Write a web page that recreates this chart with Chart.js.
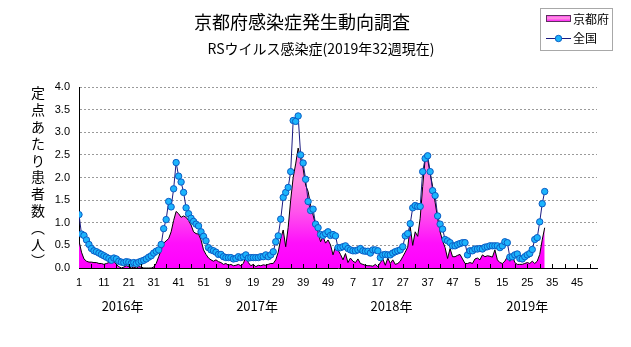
<!DOCTYPE html>
<html lang="ja">
<head>
<meta charset="utf-8">
<title>京都府感染症発生動向調査</title>
<script src="https://cdn.jsdelivr.net/npm/chart.js@4.4.0/dist/chart.umd.min.js"></script>
<style>
  html, body { margin: 0; padding: 0; background: #fff; }
  #rs-chart { display: block; }
</style>
</head>
<body>
<canvas id="rs-chart" width="631" height="347"></canvas>
<script>
/* -------- DATA START -------- */
const chartTitle = "京都府感染症発生動向調査";
const chartSubtitle = "RSウイルス感染症(2019年32週現在)";
const yAxisTitle = ["定", "点", "あ", "た", "り", "患", "者", "数", "︵", "人", "︶"];
const seriesNames = ["京都府", "全国"];
const yearLabels = ["2016年", "2017年", "2018年", "2019年"];
const weekTickLabels = ["1", "11", "21", "31", "41", "51", "9", "19", "29", "39", "49",
    "7", "17", "27", "37", "47", "5", "15", "25", "35", "45"];
const weeksShown = 208; // 4 years x 52 weeks

// 京都府 (2016 week 1 .. 2019 week 32)
const kyotoValues = [
    0.60, 0.35, 0.20, 0.15, 0.13, 0.13, 0.12, 0.12, 0.10, 0.10,
    0.08, 0.10, 0.12, 0.12, 0.15, 0.08, 0.03, 0.00, 0.02, 0.05,
    0.03, 0.00, 0.02, 0.00, 0.03, 0.02, 0.00, 0.00, 0.00, 0.00,
    0.02, 0.10, 0.25, 0.40, 0.55, 0.60, 0.65, 0.80, 1.05, 1.25,
    1.20, 1.12, 1.15, 1.12, 1.05, 0.95, 0.80, 0.76, 0.75, 0.62,
    0.40, 0.30, 0.22, 0.18, 0.15, 0.18, 0.14, 0.12, 0.08, 0.10,
    0.06, 0.08, 0.05, 0.06, 0.08, 0.05, 0.10, 0.25, 0.12, 0.05,
    0.08, 0.03, 0.06, 0.05, 0.07, 0.06, 0.08, 0.10, 0.10, 0.18,
    0.35, 0.65, 0.84, 0.47, 0.90, 1.50, 2.00, 2.30, 2.65, 2.42,
    2.20, 1.83, 1.69, 1.39, 1.17, 0.95, 0.80, 0.58, 0.69, 0.55,
    0.62, 0.51, 0.29, 0.47, 0.40, 0.30, 0.18, 0.32, 0.12, 0.22,
    0.15, 0.12, 0.20, 0.10, 0.08, 0.06, 0.05, 0.05, 0.04, 0.08,
    0.03, 0.12, 0.20, 0.06, 0.22, 0.10, 0.18, 0.08, 0.10, 0.15,
    0.25, 0.35, 0.46, 0.91, 0.50, 0.80, 0.70, 1.10, 1.80, 2.42,
    2.40, 2.10, 1.80, 1.45, 1.10, 0.80, 0.60, 0.45, 0.21, 0.43,
    0.25, 0.25, 0.28, 0.30, 0.20, 0.10, 0.10, 0.12, 0.10, 0.20,
    0.22, 0.18, 0.29, 0.25, 0.27, 0.26, 0.24, 0.40, 0.18, 0.12,
    0.10, 0.15, 0.25, 0.15, 0.28, 0.12, 0.08, 0.08, 0.08, 0.10,
    0.12, 0.10, 0.15, 0.10, 0.15, 0.30, 0.62, 0.89
];

// 全国 (2016 week 1 .. 2019 week 32)
const nationalValues = [
    1.18, 0.75, 0.72, 0.62, 0.52, 0.43, 0.38, 0.36, 0.33, 0.30,
    0.27, 0.24, 0.21, 0.17, 0.22, 0.20, 0.15, 0.13, 0.12, 0.14,
    0.13, 0.10, 0.12, 0.10, 0.13, 0.15, 0.17, 0.20, 0.24, 0.27,
    0.33, 0.37, 0.40, 0.52, 0.87, 1.07, 1.47, 1.35, 1.75, 2.33,
    2.03, 1.90, 1.67, 1.33, 1.20, 1.10, 1.03, 0.97, 0.93, 0.80,
    0.70, 0.60, 0.45, 0.40, 0.38, 0.35, 0.30, 0.30, 0.25, 0.23,
    0.23, 0.23, 0.20, 0.21, 0.25, 0.23, 0.25, 0.29, 0.22, 0.23,
    0.23, 0.23, 0.23, 0.25, 0.25, 0.29, 0.25, 0.29, 0.36, 0.58,
    0.71, 1.08, 1.56, 1.67, 1.78, 2.13, 3.26, 3.24, 3.36, 2.50,
    2.32, 1.96, 1.47, 1.27, 1.30, 0.97, 0.89, 0.74, 0.72, 0.76,
    0.80, 0.72, 0.74, 0.71, 0.45, 0.45, 0.47, 0.49, 0.43, 0.40,
    0.38, 0.38, 0.40, 0.43, 0.38, 0.37, 0.37, 0.33, 0.40, 0.40,
    0.38, 0.23, 0.29, 0.30, 0.29, 0.29, 0.33, 0.36, 0.38, 0.40,
    0.47, 0.71, 0.76, 0.98, 1.33, 1.38, 1.36, 1.36, 2.13, 2.42,
    2.48, 2.13, 1.71, 1.60, 1.15, 0.97, 0.86, 0.63, 0.60, 0.56,
    0.49, 0.49, 0.52, 0.54, 0.56, 0.56, 0.29, 0.38, 0.38, 0.42,
    0.42, 0.43, 0.42, 0.46, 0.47, 0.49, 0.49, 0.49, 0.49, 0.45,
    0.49, 0.58, 0.56, 0.24, 0.25, 0.29, 0.31, 0.21, 0.20, 0.25,
    0.29, 0.32, 0.41, 0.63, 0.67, 1.02, 1.42, 1.69
];
/* -------- DATA END -------- */

/* -------- STYLE START -------- */
const FONT_JP = "'Noto Sans CJK JP', 'Noto Sans', sans-serif";
const FONT_NUM = "'Liberation Sans', Arial, sans-serif";
const LINE_COLOR = "#1a1a80";
const POINT_FILL = "#1cb4fc";
const POINT_EDGE = "#0b5cc4";
/* -------- STYLE END -------- */

/* -------- FUNCTIONS START -------- */
function toPoints(values) {
    return values.map((v, i) => ({ x: i, y: v }));
}

// magenta with a lighter pink band, like the old Excel gradient fill
function kyotoFill(context) {
    const chart = context.chart;
    if (!chart.chartArea) return "#ff00ff";
    const y = chart.scales.y;
    const g = chart.ctx.createLinearGradient(0, y.getPixelForValue(2.8), 0, y.getPixelForValue(0));
    g.addColorStop(0, "#ff66e6");
    g.addColorStop(0.3, "#ff8ae2");
    g.addColorStop(0.55, "#ff55ec");
    g.addColorStop(0.8, "#ff10fb");
    g.addColorStop(1, "#ff00ff");
    return g;
}

const decorations = {
    id: "decorations",
    afterDatasetsDraw(chart) {
        // small tick marks every 5 weeks, pointing into the plot
        const { ctx, chartArea, scales } = chart;
        ctx.save();
        ctx.strokeStyle = "#000";
        ctx.lineWidth = 1;
        ctx.beginPath();
        for (let w = 5; w < weeksShown; w += 5) {
            const px = Math.round(scales.x.getPixelForValue(w)) + 0.5;
            ctx.moveTo(px, chartArea.bottom);
            ctx.lineTo(px, chartArea.bottom - 4);
        }
        ctx.stroke();
        ctx.restore();
    },
    afterDraw(chart) {
        const { ctx, scales } = chart;
        ctx.save();
        ctx.fillStyle = "#000";
        ctx.textBaseline = "middle";
        ctx.textAlign = "center";

        // titles
        ctx.font = "18px " + FONT_JP;
        ctx.fillText(chartTitle, 302, 22);
        ctx.font = "14px " + FONT_JP;
        ctx.fillText(chartSubtitle, 321, 49);

        // vertical y axis title
        ctx.font = "14px " + FONT_JP;
        yAxisTitle.forEach((ch, i) => ctx.fillText(ch, 38, 93 + i * 16.8));

        // year labels under the week numbers
        ctx.font = "13px " + FONT_JP;
        const yearCenters = [17.5, 71.5, 125.5, 180];
        yearLabels.forEach((t, i) => ctx.fillText(t, scales.x.getPixelForValue(yearCenters[i]), 306));

        // legend box
        ctx.strokeStyle = "#a8a8a8";
        ctx.lineWidth = 1;
        ctx.strokeRect(540.5, 8.5, 72, 42);

        const sw = ctx.createLinearGradient(0, 14, 0, 22);
        sw.addColorStop(0, "#ff00ff");
        sw.addColorStop(0.5, "#ff9ae0");
        sw.addColorStop(1, "#ff00ff");
        ctx.fillStyle = sw;
        ctx.fillRect(546, 15, 25, 7);
        ctx.strokeStyle = "#603060";
        ctx.strokeRect(546.5, 15.5, 24, 6);

        ctx.strokeStyle = LINE_COLOR;
        ctx.beginPath();
        ctx.moveTo(546, 38.5);
        ctx.lineTo(571, 38.5);
        ctx.stroke();
        ctx.beginPath();
        ctx.arc(558.5, 38.5, 3.2, 0, Math.PI * 2);
        ctx.fillStyle = POINT_FILL;
        ctx.fill();
        ctx.strokeStyle = POINT_EDGE;
        ctx.stroke();

        ctx.fillStyle = "#000";
        ctx.textAlign = "left";
        ctx.font = "12px " + FONT_JP;
        ctx.fillText(seriesNames[0], 573, 19);
        ctx.fillText(seriesNames[1], 573, 38);
        ctx.restore();
    }
};
/* -------- FUNCTIONS END -------- */

/* -------- PROGRAM START -------- */
const ctx = document.getElementById("rs-chart").getContext("2d");
new Chart(ctx, {
    type: "line",
    data: {
        datasets: [
            {
                label: seriesNames[1],
                data: toPoints(nationalValues),
                borderColor: LINE_COLOR,
                borderWidth: 1,
                pointRadius: 3.2,
                pointBorderWidth: 1,
                pointBackgroundColor: POINT_FILL,
                pointBorderColor: POINT_EDGE,
                fill: false,
                tension: 0,
                order: 1
            },
            {
                label: seriesNames[0],
                data: toPoints(kyotoValues),
                borderColor: "#000",
                borderWidth: 1,
                pointRadius: 0,
                backgroundColor: kyotoFill,
                fill: "origin",
                tension: 0,
                order: 2
            }
        ]
    },
    options: {
        responsive: false,
        animation: false,
        devicePixelRatio: 1,
        layout: { padding: { top: 87, right: 34, left: 0, bottom: 0 } },
        plugins: {
            legend: { display: false },
            title: { display: false },
            tooltip: { enabled: false }
        },
        scales: {
            x: {
                type: "linear",
                min: 0,
                max: weeksShown,
                afterFit(scale) { scale.height = 79; },
                afterBuildTicks(scale) {
                    scale.ticks = weekTickLabels.map((_, i) => ({ value: i * 10 }));
                },
                grid: { display: false, drawTicks: false },
                border: { color: "#000", width: 1 },
                ticks: {
                    autoSkip: false,
                    maxRotation: 0,
                    padding: 8,
                    color: "#000",
                    font: { family: FONT_NUM, size: 11 },
                    callback: (value) => weekTickLabels[value / 10]
                }
            },
            y: {
                min: 0,
                max: 4,
                afterFit(scale) { scale.width = 79; },
                grid: { color: "#9a9a9a", drawTicks: false },
                border: { color: "#000", width: 1, dash: [2, 2] },
                ticks: {
                    stepSize: 0.5,
                    padding: 9,
                    color: "#000",
                    font: { family: FONT_NUM, size: 11 },
                    callback: (value) => value.toFixed(1)
                }
            }
        }
    },
    plugins: [decorations]
});
/* -------- PROGRAM END -------- */
</script>
</body>
</html>
